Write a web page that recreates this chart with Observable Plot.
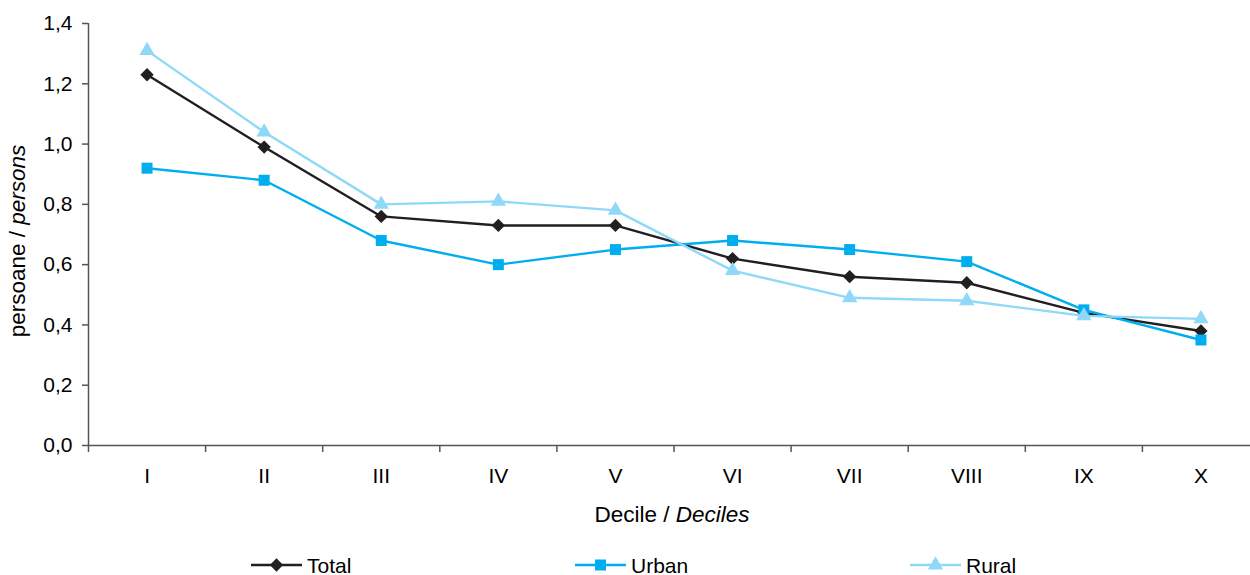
<!DOCTYPE html>
<html><head><meta charset="utf-8">
<script src="https://cdn.jsdelivr.net/npm/d3@7"></script>
<script src="https://cdn.jsdelivr.net/npm/@observablehq/plot@0.6"></script>
<style>
body{margin:0;background:#fff;overflow:hidden;font-family:"Liberation Sans",Arial,sans-serif;}
#chart{position:relative;width:1250px;height:575px;overflow:hidden;background:#fff}
#chart svg{display:block;max-width:none !important;}
#legend{position:absolute;left:0;top:545px}
</style></head><body><div id="chart"></div>
<script>
const deciles = ["I","II","III","IV","V","VI","VII","VIII","IX","X"];
const total = [1.23, 0.99, 0.76, 0.73, 0.73, 0.62, 0.56, 0.54, 0.44, 0.38];
const urban = [0.92, 0.88, 0.68, 0.60, 0.65, 0.68, 0.65, 0.61, 0.45, 0.35];
const rural = [1.31, 1.04, 0.80, 0.81, 0.78, 0.58, 0.49, 0.48, 0.43, 0.42];
const seriesNames = ["Total","Urban","Rural"];
const seriesValues = [total, urban, rural];
const colors = ["#231f20","#00aeef","#8fd8f8"];
const symbols = ["diamond2","square","triangle2"];
const symbolR = [6, 6.2, 7.3];
const yTicks = [0, 0.2, 0.4, 0.6, 0.8, 1.0, 1.2, 1.4];
const yTitle = ["persoane / ", "persons"];
const xTitle = ["Decile / ", "Deciles"];

const rows = [];
seriesNames.forEach((s, k) => seriesValues[k].forEach((v, i) => rows.push({series: s, x: i + 1, value: v})));

const font = "'Liberation Sans', Arial, sans-serif";
const seriesMarks = seriesNames.flatMap((s, k) => {
  const d = rows.filter(r => r.series === s);
  return [
    Plot.line(d, {x: "x", y: "value", stroke: colors[k], strokeWidth: 2.4}),
    Plot.dot(d, {x: "x", y: "value", symbol: symbols[k], fill: colors[k], stroke: "none", r: symbolR[k]})
  ];
});

const plot = Plot.plot({
  width: 1259, height: 540,
  marginLeft: 88, marginRight: 0, marginTop: 23, marginBottom: 95,
  style: {fontFamily: font, fontSize: "21px", color: "#000", background: "white", overflow: "visible"},
  x: {type: "linear", domain: [0.5, 10.5], axis: null},
  y: {domain: [0, 1.4], axis: null},
  marks: [
    Plot.axisY({ticks: yTicks, tickSize: 6, tickPadding: 10, stroke: "#555", strokeWidth: 1.5,
      tickFormat: d => d.toFixed(1).replace(".", ","), label: null, fontSize: 21, fill: "#000"}),
    Plot.axisX({ticks: d3.range(0.5, 11, 1), tickSize: 7, stroke: "#555", strokeWidth: 1.5, tickFormat: () => "", label: null}),
    Plot.axisX({ticks: d3.range(1, 11), tickSize: 0, tickPadding: 23, tickFormat: i => deciles[Math.round(i) - 1], label: null, fontSize: 21, fill: "#000"}),
    Plot.ruleX([0.5], {stroke: "#555", strokeWidth: 1.5}),
    Plot.ruleY([0], {stroke: "#555", strokeWidth: 1.5}),
    ...seriesMarks
  ]
});

const chart = document.getElementById("chart");
chart.appendChild(plot);
const svg = d3.select(plot);
const xt = svg.append("text").attr("x", 672).attr("y", 522).attr("text-anchor", "middle")
  .attr("font-size", 22.5).attr("font-family", font).attr("fill", "#000");
xt.append("tspan").text(xTitle[0]);
xt.append("tspan").attr("font-style", "italic").text(xTitle[1]);
const yt = svg.append("text").attr("transform", "translate(25,241) rotate(-90)").attr("text-anchor", "middle")
  .attr("font-size", 22.5).attr("font-family", font).attr("fill", "#000");
yt.append("tspan").text(yTitle[0]);
yt.append("tspan").attr("font-style", "italic").text(yTitle[1]);

// legend
const legendPos = [{x0: 251}, {x0: 575}, {x0: 910}];
const lg = d3.select(chart).append("svg").attr("id", "legend").attr("width", 1250).attr("height", 30);
const symMap = {diamond2: d3.symbolDiamond2, square: d3.symbolSquare, triangle2: d3.symbolTriangle2};
seriesNames.forEach((s, k) => {
  const x0 = legendPos[k].x0, cy = 20;
  lg.append("line").attr("x1", x0).attr("x2", x0 + 51).attr("y1", cy).attr("y2", cy).attr("stroke", colors[k]).attr("stroke-width", 2.4);
  lg.append("path").attr("transform", `translate(${x0 + 25.5},${cy})`)
    .attr("d", d3.symbol(symMap[symbols[k]], Math.PI * symbolR[k] * symbolR[k])()).attr("fill", colors[k]);
  lg.append("text").attr("x", x0 + 56).attr("y", cy + 7.5).attr("font-size", 21).attr("font-family", font).attr("fill", "#000").text(s);
});
</script></body></html>
